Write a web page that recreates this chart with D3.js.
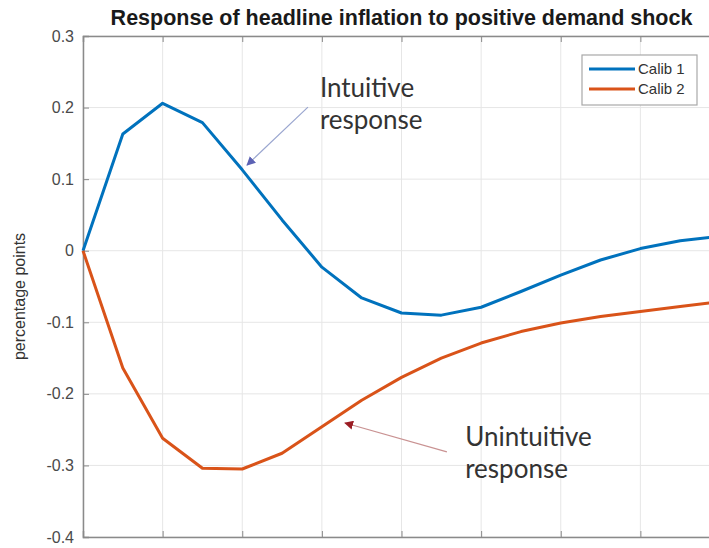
<!DOCTYPE html>
<html>
<head>
<meta charset="utf-8">
<script src="https://cdn.jsdelivr.net/npm/d3@7"></script>
<style>
  html, body { margin: 0; padding: 0; background: #fff; }
  svg { display: block; }
</style>
</head>
<body>
<div id="chart"></div>
<script>
// Impulse responses of headline inflation, by period after the shock
const periods = d3.range(0, 17);
const calib1 = [0, 0.163, 0.206, 0.179, 0.113, 0.043, -0.023, -0.066, -0.087, -0.090, -0.079, -0.057, -0.034, -0.013, 0.003, 0.014, 0.020];
const calib2 = [0, -0.164, -0.262, -0.304, -0.305, -0.283, -0.246, -0.209, -0.177, -0.150, -0.129, -0.113, -0.101, -0.092, -0.085, -0.078, -0.071];
const seriesNames = ["Calib 1", "Calib 2"];
const seriesColors = ["#0072BD", "#D95319"];
const yTicks = [-0.4, -0.3, -0.2, -0.1, 0, 0.1, 0.2, 0.3];
const yTickLabels = ["-0.4", "-0.3", "-0.2", "-0.1", "0", "0.1", "0.2", "0.3"];
const xTicks = [0, 2, 4, 6, 8, 10, 12, 14, 16];

// Callouts placed in data space: [period, value] pairs
const calloutText = [
  { lines: ["Intuitive", "response"], at: [5.95, 0.2147], from: [5.65, 0.2006], to: [4.12, 0.1197], line: "#9aa6cf", head: "#5c62b4" },
  { lines: ["Unintuitive", "response"], at: [9.6, -0.2728], from: [9.14, -0.281], to: [6.58, -0.2407], line: "#c99292", head: "#9b1d24" }
];

const W = 709, H = 548;
const plot = { left: 83, right: 720, top: 36, bottom: 537 };

const svg = d3.select("#chart").append("svg")
  .attr("width", W).attr("height", H)
  .style("font-family", "Arial, 'Liberation Sans', sans-serif");

const x = d3.scaleLinear().domain([0, 16]).range([plot.left, plot.right]);
const y = d3.scaleLinear().domain([-0.4, 0.3]).range([plot.bottom, plot.top]);

// Grid
const grid = svg.append("g").attr("class", "grid");
grid.selectAll("line.gx").data(xTicks).join("line")
  .attr("x1", d => x(d)).attr("x2", d => x(d))
  .attr("y1", plot.top).attr("y2", plot.bottom)
  .attr("stroke", "#e6e6e6").attr("stroke-width", 1);
grid.selectAll("line.gy").data(yTicks).join("line")
  .attr("y1", d => y(d)).attr("y2", d => y(d))
  .attr("x1", plot.left).attr("x2", plot.right)
  .attr("stroke", "#e6e6e6").attr("stroke-width", 1);

// Axes with inward ticks
const axisColor = "#8a8a8a";
const yAxis = d3.axisLeft(y).tickValues(yTicks)
  .tickFormat((d, i) => yTickLabels[i]).tickSize(-6).tickPadding(9);
const gy = svg.append("g").attr("transform", `translate(${plot.left},0)`).call(yAxis);
gy.select(".domain").attr("stroke", axisColor).attr("stroke-width", 1.5);
gy.selectAll(".tick line").attr("stroke", axisColor);
gy.selectAll(".tick text").attr("fill", "#4a4a4a").style("font-size", "16px");

const xAxisBottom = d3.axisBottom(x).tickValues(xTicks).tickFormat("").tickSize(-6);
const gxb = svg.append("g").attr("transform", `translate(0,${plot.bottom})`).call(xAxisBottom);
gxb.select(".domain").attr("stroke", axisColor).attr("stroke-width", 1.5);
gxb.selectAll(".tick line").attr("stroke", axisColor);

const xAxisTop = d3.axisTop(x).tickValues(xTicks).tickFormat("").tickSize(-6);
const gxt = svg.append("g").attr("transform", `translate(0,${plot.top})`).call(xAxisTop);
gxt.select(".domain").attr("stroke", axisColor).attr("stroke-width", 1.5);
gxt.selectAll(".tick line").attr("stroke", axisColor);

svg.append("line")
  .attr("x1", plot.right).attr("x2", plot.right)
  .attr("y1", plot.top).attr("y2", plot.bottom)
  .attr("stroke", axisColor).attr("stroke-width", 1.5);

// Series lines
const line = d3.line().x((d, i) => x(periods[i])).y(d => y(d));
[calib1, calib2].forEach((vals, k) => {
  svg.append("path").datum(vals)
    .attr("d", line)
    .attr("fill", "none")
    .attr("stroke", seriesColors[k])
    .attr("stroke-width", 3)
    .attr("stroke-linejoin", "round");
});

// Title
svg.append("text")
  .attr("x", (plot.left + plot.right) / 2).attr("y", 25)
  .attr("text-anchor", "middle")
  .attr("font-weight", "bold").style("font-size", "21.5px")
  .attr("fill", "#1a1a1a")
  .text("Response of headline inflation to positive demand shock");

// Y label
svg.append("text")
  .attr("transform", `translate(25,${(plot.top + plot.bottom) / 2 + 10}) rotate(-90)`)
  .attr("text-anchor", "middle")
  .style("font-size", "16px").attr("fill", "#333")
  .text("percentage points");

// Legend
const lg = svg.append("g").attr("transform", "translate(582,55)");
lg.append("rect").attr("width", 115).attr("height", 50)
  .attr("fill", "#fff").attr("stroke", "#a8a8a8").attr("stroke-width", 1.2);
seriesNames.forEach((name, k) => {
  const yy = 14 + k * 20;
  lg.append("line").attr("x1", 7).attr("x2", 53).attr("y1", yy).attr("y2", yy)
    .attr("stroke", seriesColors[k]).attr("stroke-width", 3);
  lg.append("text").attr("x", 56).attr("y", yy + 5)
    .style("font-size", "15px").attr("fill", "#333").text(name);
});

// Callouts with arrows
const defs = svg.append("defs");
calloutText.forEach((c, k) => {
  defs.append("marker").attr("id", "ah" + k)
    .attr("viewBox", "0 0 10 10").attr("refX", 9).attr("refY", 5)
    .attr("markerWidth", 9).attr("markerHeight", 9).attr("markerUnits", "userSpaceOnUse")
    .attr("orient", "auto")
    .append("path").attr("d", "M0,0 L10,5 L0,10 z").attr("fill", c.head);
  svg.append("line")
    .attr("x1", x(c.from[0])).attr("y1", y(c.from[1]))
    .attr("x2", x(c.to[0])).attr("y2", y(c.to[1]))
    .attr("stroke", c.line).attr("stroke-width", 1.2)
    .attr("marker-end", `url(#ah${k})`);
  const t = svg.append("text")
    .attr("x", x(c.at[0])).attr("y", y(c.at[1]))
    .style("font-family", "Lato, 'Open Sans', sans-serif")
    .style("font-size", "26px").attr("fill", "#333");
  c.lines.forEach((s, i) => {
    t.append("tspan").attr("x", x(c.at[0])).attr("dy", i === 0 ? 0 : 32).text(s);
  });
});
</script>
</body>
</html>
